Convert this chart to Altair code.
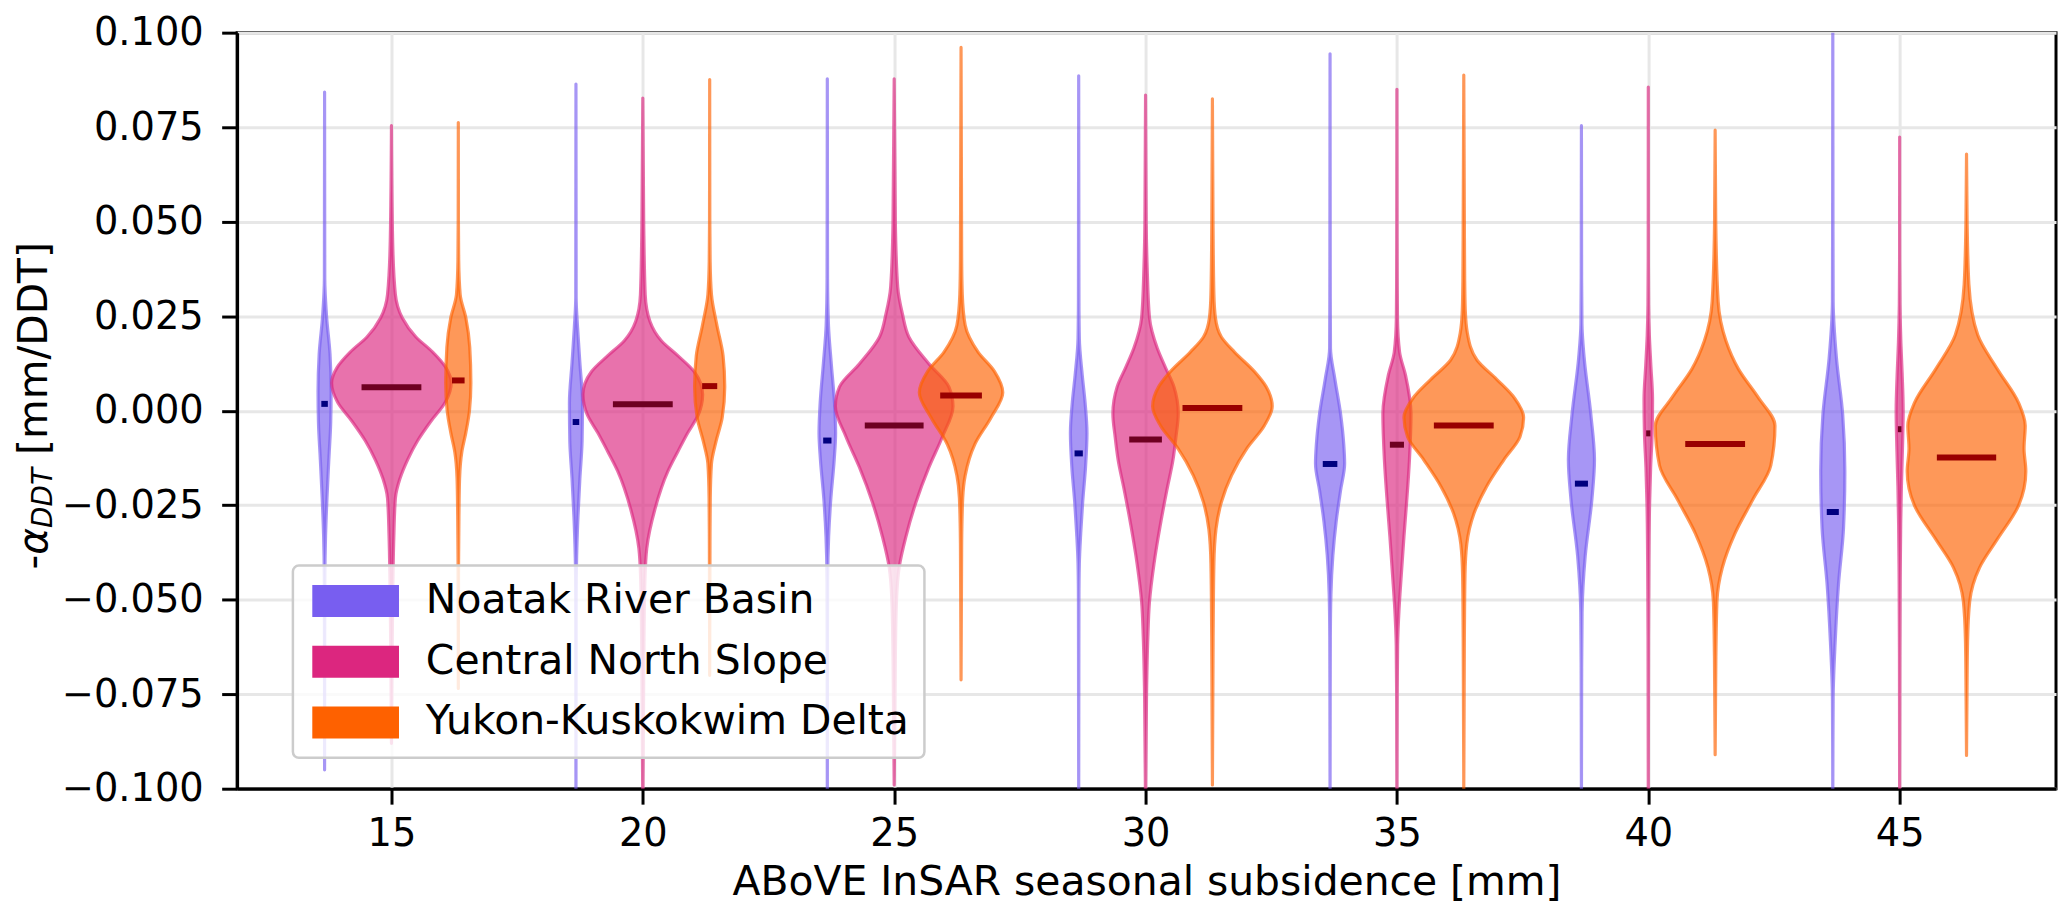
import altair as alt
import pandas as pd

# ---------------- data ----------------
group_centers = [15, 20, 25, 30, 35, 40, 45]
regions = ["Noatak River Basin", "Central North Slope", "Yukon-Kuskokwim Delta"]
region_offsets = [-1.33, 0.0, 1.33]
region_colors = ["#785EF0", "#DC267F", "#FE6100"]
median_colors = ["#00007F", "#6E0021", "#990000"]
y_ticks = [-0.1, -0.075, -0.05, -0.025, 0.0, 0.025, 0.05, 0.075, 0.1]

# violin full widths (x units) per group
widths_noatak = [0.26, 0.26, 0.33, 0.33, 0.58, 0.52, 0.48]
widths_central = [2.38, 2.38, 2.34, 1.30, 0.56, 0.17, 0.14]
widths_yukon = [0.50, 0.60, 1.66, 2.38, 2.38, 2.38, 2.36]

# medians per group
medians_noatak = [0.0018, -0.0030, -0.0079, -0.0113, -0.0141, -0.0193, -0.0268]
medians_central = [0.0062, 0.0017, -0.0039, -0.0076, -0.0090, -0.0060, -0.0049]
medians_yukon = [0.0080, 0.0065, 0.0040, 0.0007, -0.0039, -0.0088, -0.0124]

# violin profiles: (value, relative half width)
noatak_15 = [(0.0843, 0), (0.05, 0.02), (0.035, 0.03), (0.025, 0.3), (0.015, 0.83), (0.005, 1.0), (-0.003, 0.94),
             (-0.013, 0.65), (-0.023, 0.37), (-0.033, 0.15), (-0.045, 0.04), (-0.06, 0.02), (-0.095, 0)]
noatak_20 = [(0.0864, 0), (0.05, 0.02), (0.03, 0.03), (0.022, 0.25), (0.0127, 0.6), (0.002, 1.0), (-0.008, 0.94),
             (-0.018, 0.6), (-0.028, 0.31), (-0.039, 0.1), (-0.05, 0.03), (-0.07, 0.02), (-0.105, 0)]
noatak_25 = [(0.0878, 0), (0.05, 0.02), (0.035, 0.03), (0.0226, 0.14), (0.0124, 0.48), (0.0022, 0.86), (-0.0059, 1.0),
             (-0.013, 0.83), (-0.0231, 0.43), (-0.0333, 0.16), (-0.045, 0.04), (-0.06, 0.02), (-0.105, 0)]
noatak_30 = [(0.0886, 0), (0.05, 0.02), (0.03, 0.03), (0.0191, 0.08), (0.0094, 0.43), (0.0022, 0.77), (-0.0059, 1.0),
             (-0.0148, 0.83), (-0.0242, 0.48), (-0.0323, 0.25), (-0.0404, 0.08), (-0.05, 0.03), (-0.065, 0.02),
             (-0.105, 0)]
noatak_35 = [(0.0944, 0), (0.05, 0.01), (0.03, 0.015), (0.0165, 0.03), (0.0084, 0.33), (-0.0008, 0.72),
             (-0.0089, 0.94), (-0.014, 1.0), (-0.0211, 0.72), (-0.0293, 0.42), (-0.0384, 0.19), (-0.0486, 0.06),
             (-0.06, 0.02), (-0.075, 0.01), (-0.105, 0)]
noatak_40 = [(0.0754, 0), (0.05, 0.01), (0.035, 0.015), (0.023, 0.04), (0.014, 0.21), (-0.001, 0.72), (-0.013, 1.0),
             (-0.0235, 0.8), (-0.0385, 0.29), (-0.0534, 0.05), (-0.068, 0.02), (-0.085, 0.01), (-0.105, 0)]
noatak_45 = [(0.105, 0), (0.07, 0.01), (0.05, 0.015), (0.029, 0.03), (0.014, 0.3), (-0.001, 0.82), (-0.016, 1.0),
             (-0.031, 0.89), (-0.046, 0.47), (-0.061, 0.2), (-0.076, 0.03), (-0.09, 0.01), (-0.105, 0)]

central_15 = [(0.0754, 0), (0.045, 0.02), (0.0307, 0.066), (0.0246, 0.18), (0.0195, 0.41), (0.0155, 0.69),
              (0.0114, 0.91), (0.0073, 1.0), (0.0022, 0.9), (-0.0028, 0.66), (-0.0079, 0.44), (-0.013, 0.27),
              (-0.0181, 0.14), (-0.0231, 0.066), (-0.0333, 0.04), (-0.045, 0.025), (-0.065, 0.01), (-0.088, 0)]
central_20 = [(0.0827, 0), (0.05, 0.015), (0.0307, 0.04), (0.0236, 0.12), (0.0185, 0.31), (0.0145, 0.59),
              (0.0103, 0.86), (0.0043, 1.0), (-0.001, 0.93), (-0.0059, 0.75), (-0.011, 0.58), (-0.016, 0.42),
              (-0.0262, 0.2), (-0.0364, 0.066), (-0.045, 0.035), (-0.06, 0.02), (-0.105, 0)]
central_25 = [(0.0878, 0), (0.05, 0.02), (0.0327, 0.06), (0.0256, 0.14), (0.0195, 0.25), (0.0124, 0.59),
              (0.0063, 0.93), (0.0012, 1.0), (-0.0069, 0.82), (-0.015, 0.59), (-0.0242, 0.37), (-0.0333, 0.2),
              (-0.0414, 0.085), (-0.05, 0.04), (-0.065, 0.02), (-0.099, 0)]
central_30 = [(0.0835, 0), (0.05, 0.02), (0.0378, 0.05), (0.0246, 0.12), (0.0165, 0.36), (0.0114, 0.61),
              (0.0063, 0.87), (-0.0008, 1.0), (-0.007, 0.93), (-0.013, 0.84), (-0.0211, 0.65), (-0.0303, 0.45),
              (-0.0404, 0.26), (-0.0506, 0.12), (-0.06, 0.07), (-0.075, 0.03), (-0.105, 0)]
central_35 = [(0.085, 0), (0.05, 0.01), (0.035, 0.02), (0.0246, 0.04), (0.0155, 0.19), (0.0094, 0.61),
              (-0.0008, 1.0), (-0.013, 0.89), (-0.0242, 0.69), (-0.0333, 0.5), (-0.0435, 0.31), (-0.0526, 0.15),
              (-0.062, 0.05), (-0.075, 0.02), (-0.105, 0)]
central_40 = [(0.0856, 0), (0.04, 0.02), (0.028, 0.08), (0.02, 0.25), (0.012, 0.6), (0.003, 1.0), (-0.006, 0.9),
              (-0.015, 0.55), (-0.025, 0.3), (-0.04, 0.15), (-0.06, 0.06), (-0.105, 0)]
central_45 = [(0.0724, 0), (0.04, 0.02), (0.028, 0.1), (0.018, 0.35), (0.01, 0.7), (0.0, 1.0), (-0.01, 0.8),
              (-0.02, 0.5), (-0.03, 0.3), (-0.045, 0.15), (-0.065, 0.06), (-0.105, 0)]

yukon_15 = [(0.0762, 0), (0.05, 0.01), (0.04, 0.03), (0.0307, 0.15), (0.0246, 0.6), (0.0168, 0.91), (0.0073, 1.0),
            (0.0001, 0.89), (-0.0058, 0.6), (-0.0109, 0.28), (-0.018, 0.1), (-0.028, 0.05), (-0.04, 0.02),
            (-0.0735, 0)]
yukon_20 = [(0.0876, 0), (0.05, 0.01), (0.0396, 0.03), (0.0307, 0.12), (0.0226, 0.48), (0.0145, 0.89),
            (0.0063, 1.0), (-0.0019, 0.83), (-0.008, 0.43), (-0.014, 0.12), (-0.023, 0.04), (-0.035, 0.02),
            (-0.07, 0)]
yukon_25 = [(0.0961, 0), (0.06, 0.01), (0.04, 0.015), (0.0307, 0.03), (0.0226, 0.1), (0.0155, 0.41), (0.0104, 0.8),
            (0.0048, 1.0), (-0.0018, 0.72), (-0.0089, 0.33), (-0.0171, 0.1), (-0.0231, 0.04), (-0.035, 0.015),
            (-0.0712, 0)]
yukon_30 = [(0.0825, 0), (0.05, 0.01), (0.0307, 0.025), (0.0246, 0.05), (0.0195, 0.15), (0.0155, 0.37),
            (0.0104, 0.7), (0.0063, 0.9), (0.0012, 1.0), (-0.0039, 0.87), (-0.0099, 0.58), (-0.0171, 0.32),
            (-0.0242, 0.15), (-0.0313, 0.06), (-0.0404, 0.025), (-0.06, 0.012), (-0.099, 0)]
yukon_35 = [(0.0888, 0), (0.05, 0.01), (0.035, 0.015), (0.0266, 0.025), (0.0205, 0.06), (0.0134, 0.22),
            (0.0083, 0.55), (0.0033, 0.85), (-0.0018, 1.0), (-0.0069, 0.94), (-0.013, 0.67), (-0.0201, 0.38),
            (-0.0272, 0.17), (-0.0353, 0.05), (-0.0435, 0.02), (-0.06, 0.01), (-0.1, 0)]
yukon_40 = [(0.0742, 0), (0.05, 0.01), (0.0289, 0.05), (0.0185, 0.18), (0.011, 0.39), (0.0035, 0.72),
            (-0.004, 1.0), (-0.0145, 0.93), (-0.0235, 0.63), (-0.0325, 0.33), (-0.0415, 0.12), (-0.0504, 0.03),
            (-0.065, 0.012), (-0.091, 0)]
yukon_45 = [(0.0679, 0), (0.05, 0.01), (0.0334, 0.04), (0.02, 0.19), (0.011, 0.52), (0.002, 0.88), (-0.004, 0.99),
            (-0.01, 0.97), (-0.016, 1.0), (-0.025, 0.88), (-0.034, 0.52), (-0.0415, 0.22), (-0.0504, 0.054),
            (-0.061, 0.018), (-0.075, 0.008), (-0.0912, 0)]

profiles = [
    [noatak_15, noatak_20, noatak_25, noatak_30, noatak_35, noatak_40, noatak_45],
    [central_15, central_20, central_25, central_30, central_35, central_40, central_45],
    [yukon_15, yukon_20, yukon_25, yukon_30, yukon_35, yukon_40, yukon_45],
]
widths = [widths_noatak, widths_central, widths_yukon]
medians = [medians_noatak, medians_central, medians_yukon]

y_title_parts = ["-", "\u03b1", "DDT", "[mm/DDT]"]


def violin_frame(ri):
    rows = []
    for gi, c in enumerate(group_centers):
        cx = c + region_offsets[ri]
        half = widths[ri][gi] / 2.0
        for v, r in profiles[ri][gi]:
            rows.append({"region": regions[ri], "vid": f"{ri}_{c}", "v": v,
                         "lo": cx - r * half, "hi": cx + r * half})
    return pd.DataFrame(rows)


def median_frame(ri):
    rows = []
    for gi, c in enumerate(group_centers):
        cx = c + region_offsets[ri]
        q = widths[ri][gi] / 4.0
        rows.append({"region": regions[ri], "v": medians[ri][gi], "lo": cx - q, "hi": cx + q})
    return pd.DataFrame(rows)


xscale = alt.Scale(domain=[11.93, 48.11], nice=False, zero=False)
yscale = alt.Scale(domain=[-0.1, 0.1], nice=False, zero=False)
xaxis = alt.Axis(values=group_centers, format="d", title="ABoVE InSAR seasonal subsidence [mm]",
                 labelPadding=12, titlePadding=9, labelFlush=False, grid=True)
yaxis = alt.Axis(values=y_ticks, format=".3f", title="", labelPadding=18.5, labelFlush=False, grid=True)

legend = alt.Legend(
    title=None, orient="none", legendX=56, legendY=535, direction="vertical",
    symbolType="M-2.72,-1H2.72V1H-2.72Z", symbolSize=1024, symbolOffset=27.5, symbolOpacity=1,
    symbolStrokeWidth=0,
    labelFont="DejaVu Sans", labelFontSize=41, labelColor="black", labelOffset=50, labelLimit=1000,
    rowPadding=19, padding=15, fillColor="rgba(255,255,255,0.8)", strokeColor="#cccccc", cornerRadius=6,
)
color = alt.Color("region:N", scale=alt.Scale(domain=regions, range=region_colors), legend=legend)

layers = []
for ri in range(3):
    area = alt.Chart(violin_frame(ri)).mark_area(
        orient="horizontal", interpolate="monotone", fillOpacity=0.65,
        stroke=region_colors[ri], strokeOpacity=0.65, strokeWidth=3.2, strokeJoin="round", clip=True,
    ).encode(
        y=alt.Y("v:Q", scale=yscale, axis=yaxis),
        x=alt.X("lo:Q", scale=xscale, axis=xaxis),
        x2="hi:Q",
        color=color,
        detail="vid:N",
    )
    med = alt.Chart(median_frame(ri)).mark_rule(
        color=median_colors[ri], strokeWidth=6, clip=True
    ).encode(
        y=alt.Y("v:Q", scale=yscale, axis=yaxis),
        x=alt.X("lo:Q", scale=xscale, axis=xaxis),
        x2="hi:Q",
    )
    layers += [area, med]

# y-axis title with subscript, built from rotated text pieces
title_specs = [
    (y_title_parts[0], -191, 539, 41, "normal"),
    (y_title_parts[1], -191, 524.2, 41, "italic"),
    (y_title_parts[2], -186, 497.2, 28, "italic"),
    (y_title_parts[3], -191, 424, 41, "normal"),
]
for txt, px, py, fs, style in title_specs:
    layers.append(
        alt.Chart(pd.DataFrame({"t": [txt]})).mark_text(
            angle=270, align="left", baseline="alphabetic", font="DejaVu Sans",
            fontSize=fs, fontStyle=style, color="black",
        ).encode(x=alt.value(px), y=alt.value(py), text="t:N")
    )

chart = alt.layer(*layers).properties(
    width=1826, height=759,
    padding={"left": 230, "top": 23, "right": 3, "bottom": 116},
    autosize=alt.AutoSizeParams(type="none"),
).configure_view(
    stroke="black", strokeWidth=3
).configure_axis(
    domainColor="black", domainWidth=3, tickColor="black", tickWidth=3, tickSize=15.5,
    gridColor="#e7e7e7", gridWidth=3, labelFont="DejaVu Sans", labelFontSize=38.5, labelColor="black",
    titleFont="DejaVu Sans", titleFontSize=41, titleFontWeight="normal", titleColor="black",
).configure_legend(
    strokeWidth=2.5
)

chart.save("out.html", embed_options={"renderer": "svg", "actions": False})
